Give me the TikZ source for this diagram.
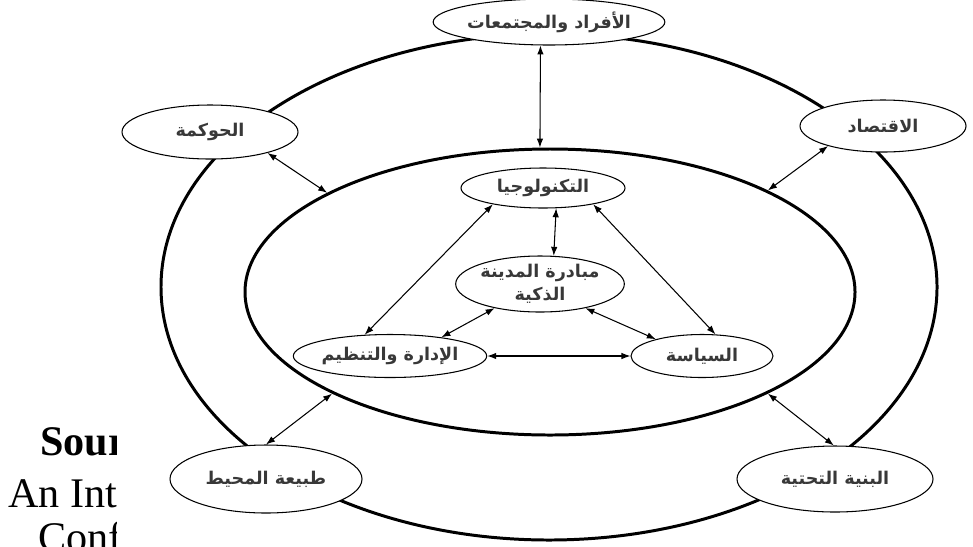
\documentclass[tikz,border=0pt]{standalone}
\usepackage{fontspec}
\setmainfont{Liberation Serif}
\newfontfamily\arabicfont[Script=Arabic]{DejaVu Sans}
\TeXXeTstate=1
\newcommand*{\atxt}[1]{{\arabicfont\bfseries\beginR #1\endR}}
\usepackage{tikz}
\usetikzlibrary{arrows.meta}
\usetikzlibrary{shapes.geometric}
\tikzset{
    ring/.style = {shape=ellipse,draw,inner sep=0,line width=1.7pt},
    topic/.style = {shape=ellipse,draw,fill=white,inner sep=0,line width=0.6pt,
        font=\fontsize{10}{13}\selectfont,text=black!78,align=center},
    link/.style = {{Latex[length=1.8mm,width=1.3mm]}-{Latex[length=1.8mm,width=1.3mm]},line width=0.6pt},
    note/.style = {anchor=base west,inner sep=0,font=\fontsize{24}{26}\selectfont}
}

\begin{document}
\begin{tikzpicture}[x=0.2mm,y=-0.2mm]
        \useasboundingbox (0,0) rectangle (973,546);
        % Source note, cut off at the left
        \begin{scope}
            \clip (0,400) rectangle (116,546);
            \path node[note,font=\fontsize{24}{26}\selectfont\bfseries] (srcA) at (40,455) {Sour}
                node[note] (srcB) at (8,507) {An Int}
                node[note] (srcC) at (38,551) {Conf}
            ;
        \end{scope}
        % Rings
        \path node[ring,minimum width=155.2mm,minimum height=101.2mm] (outer) at (549,287) {}
            node[ring,minimum width=122mm,minimum height=57.2mm] (inner) at (550,292) {}
        ;
        % Outer topics
        \path node[topic,minimum width=40.8mm,minimum height=9.2mm] (people) at (549,22) {\atxt{الأفراد والمجتمعات}}
            node[topic,minimum width=35.2mm,minimum height=10.8mm] (gov) at (210,132) {\atxt{الحوكمة}}
            node[topic,minimum width=33.2mm,minimum height=10.4mm] (econ) at (883,126) {\atxt{الاقتصاد}}
            node[topic,minimum width=38.4mm,minimum height=13.6mm] (env) at (266,479) {\atxt{طبيعة المحيط}}
            node[topic,minimum width=39.2mm,minimum height=13.2mm] (infra) at (835,479) {\atxt{البنية التحتية}}
        ;
        % Inner topics
        \path node[topic,minimum width=32.8mm,minimum height=8mm] (tech) at (543,188) {\atxt{التكنولوجيا}}
            node[topic,minimum width=30.4mm,minimum height=11.2mm] (smart) at (540,284) {\atxt{مبادرة المدينة}\\\atxt{الذكية}}
            node[topic,minimum width=36mm,minimum height=8.6mm] (admin) at (390,356) {\atxt{الإدارة والتنظيم}}
            node[topic,minimum width=28.4mm,minimum height=8.6mm] (policy) at (702,356) {\atxt{السياسة}}
        ;
        % Links to the inner ring
        \foreach \src/\dest in {people.250/inner.94,gov.340/inner.156,econ.200/inner.25,env.90/inner.205,infra.92/inner.335}
            \draw[link] (\src) to (\dest);
        % Links inside
        \foreach \src/\dest in {tech.303/smart.64,tech.198/admin.140,tech.342/policy.58,smart.208/admin.20,smart.332/policy.160,admin/policy}
            \draw[link] (\src) to (\dest);
    \end{tikzpicture}
\end{document}
